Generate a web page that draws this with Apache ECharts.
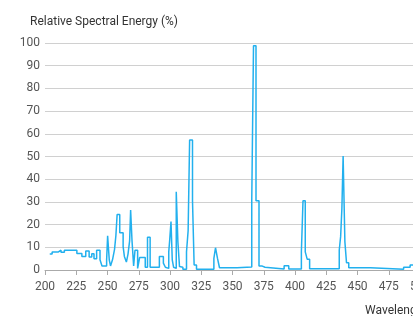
<!DOCTYPE html>
<html>
<head>
<meta charset="utf-8">
<script src="https://cdn.jsdelivr.net/npm/echarts@6/dist/echarts.min.js"></script>
<style>
  html, body { margin: 0; padding: 0; background: #fff; }
  #main { width: 413px; height: 316px; }
</style>
</head>
<body>
<div id="main"></div>
<script>
// wavelength (nm) where each step starts, and the level held until the next one
var wavelengths = [
    203.8, 205.7, 210.4, 212.8, 215.5, 225.5, 229.5, 232.6, 235.3, 237.4,
    239.2, 241.3, 244.0, 245.6, 249.3, 250.1, 251.4, 252.4, 254.0, 255.6,
    256.7, 257.7, 259.8, 262.5, 263.5, 265.1, 266.4, 267.7, 268.5, 269.6,
    270.9, 272.0, 274.1, 275.7, 280.2, 282.0, 284.1, 291.5, 294.7, 296.3,
    297.9, 299.0, 299.7, 300.8, 301.8, 302.9, 303.9, 305.0, 306.3, 307.6,
    308.9, 310.3, 313.2, 314.5, 315.7, 318.0, 319.3, 321.2, 335.1, 336.4,
    338.0, 339.6, 353.6, 365.4, 366.8, 368.8, 371.2, 373.4, 376.0, 391.3,
    395.0, 405.1, 406.4, 408.2, 409.8, 411.7, 435.4, 436.5, 437.5, 438.5,
    439.9, 441.2, 443.0, 460.4, 486.9, 492.1, 500.0
];
var energy = [
    7.0, 7.9, 8.7, 7.8, 8.7, 7.3, 6.0, 8.4, 5.7, 7.2,
    5.0, 8.7, 4.5, 1.8, 4.5, 15.1, 4.5, 1.8, 4.5, 9.0,
    15.1, 24.4, 16.4, 10.3, 6.0, 3.5, 7.0, 12.8, 26.4, 13.0,
    1.8, 8.7, 0.7, 5.5, 1.2, 14.4, 1.2, 6.0, 3.0, 1.2,
    0.7, 8.0, 12.8, 21.3, 4.5, 1.2, 0.7, 34.5, 12.5, 1.5,
    1.2, 0.3, 8.0, 17.3, 57.3, 30.5, 2.2, 0.3, 5.1, 9.8,
    5.1, 1.0, 1.3, 30.5, 98.8, 30.5, 1.8, 1.2, 0.4, 1.9,
    0.4, 8.0, 30.5, 8.0, 4.7, 0.6, 8.8, 14.7, 27.0, 50.2,
    12.5, 3.2, 1.0, 0.3, 1.2, 2.2, 2.2
];
var xTicks = [200, 500, 25];   // min, max, interval
var yTicks = [0, 100, 10];

var points = [];
for (var i = 0; i < wavelengths.length; i++) {
    points.push([wavelengths[i], energy[i]]);
}

var myChart = echarts.init(document.getElementById('main'));
var option = {
    animation: false,
    textStyle: { fontFamily: 'Roboto' },
    title: [
        {
            text: 'Relative Spectral Energy (%)',
            left: 25,
            top: 11,
            textStyle: { fontSize: 12, fontWeight: 'normal', color: '#333' }
        },
        {
            text: 'Wavelength (nm)',
            left: 360,
            top: 300,
            textStyle: { fontSize: 12, fontWeight: 'normal', color: '#333' }
        }
    ],
    grid: { left: 45, right: -7, top: 43, bottom: 46, outerBoundsMode: 'none' },
    xAxis: {
        type: 'value',
        min: xTicks[0],
        max: xTicks[1],
        interval: xTicks[2],
        axisLine: { lineStyle: { color: '#aaa' } },
        axisTick: { show: true, length: 5, lineStyle: { color: '#aaa' } },
        axisLabel: { color: '#555', fontSize: 12, margin: 11 },
        splitLine: { show: false }
    },
    yAxis: {
        type: 'value',
        min: yTicks[0],
        max: yTicks[1],
        interval: yTicks[2],
        axisLine: { show: false },
        axisTick: { show: false },
        axisLabel: { color: '#555', fontSize: 12, margin: 5 },
        splitLine: { lineStyle: { color: '#d0d0d0' } }
    },
    series: [
        {
            type: 'line',
            step: 'end',
            symbol: 'none',
            lineStyle: { color: '#22b0ee', width: 1.5 },
            data: points
        }
    ]
};
myChart.setOption(option);
</script>
</body>
</html>
